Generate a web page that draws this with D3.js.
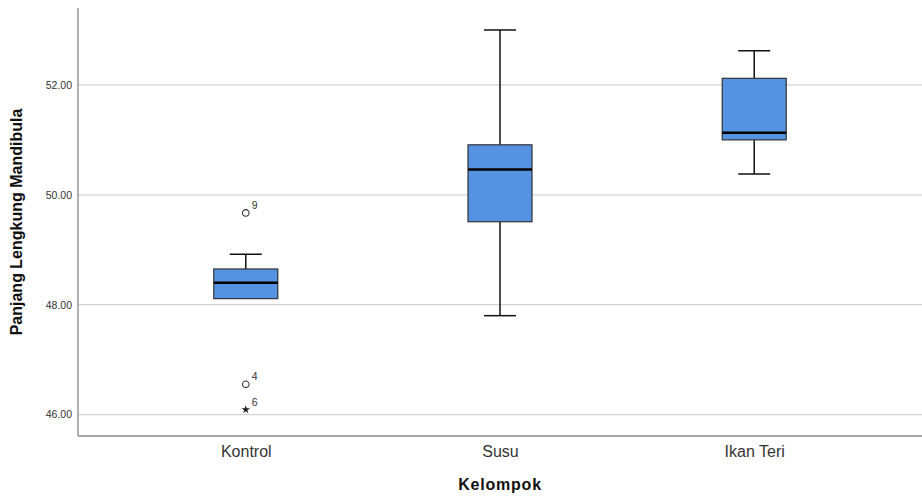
<!DOCTYPE html>
<html>
<head>
<meta charset="utf-8">
<script src="https://cdn.jsdelivr.net/npm/d3@7"></script>
<style>
  body { margin: 0; background: #fff; }
  svg { display: block; font-family: "Liberation Sans", Arial, sans-serif; }
</style>
</head>
<body>
<div id="chart"></div>
<script>
// Group names and box statistics
const groups = ['Kontrol', 'Susu', 'Ikan Teri'];
const whiskerLow = [48.11, 47.80, 50.38];
const q1 = [48.11, 49.51, 51.00];
const median = [48.40, 50.46, 51.13];
const q3 = [48.65, 50.91, 52.12];
const whiskerHigh = [48.92, 53.00, 52.62];

// outliers: group, value, case label, kind
const outlierGroup = ['Kontrol', 'Kontrol', 'Kontrol'];
const outlierValue = [49.67, 46.55, 46.09];
const outlierLabel = ['9', '4', '6'];
const outlierKind = ['circle', 'circle', 'star'];

const yTicks = [46, 48, 50, 52];

const W = 922, H = 498;
const margin = { top: 8, right: 0, bottom: 62, left: 78 };
const width = W - margin.left - margin.right;
const height = H - margin.top - margin.bottom;

const svg = d3.select('#chart').append('svg')
    .attr('width', W)
    .attr('height', H);

const g = svg.append('g')
    .attr('transform', `translate(${margin.left},${margin.top})`);

const x = d3.scalePoint().domain(groups).range([0, width]).padding(0.66);
const y = d3.scaleLinear().domain([45.61, 53.4]).range([height, 0]);

// gridlines
g.append('g').selectAll('line')
    .data(yTicks)
    .join('line')
    .attr('x1', 0).attr('x2', width)
    .attr('y1', d => y(d)).attr('y2', d => y(d))
    .attr('stroke', '#d4d4d4')
    .attr('stroke-width', 1.3);

// y axis
const yAxis = g.append('g')
    .call(d3.axisLeft(y).tickValues(yTicks).tickFormat(d3.format('.2f')).tickSize(0).tickPadding(6));
yAxis.select('.domain').remove();
yAxis.selectAll('text').attr('font-size', '10.5px').attr('fill', '#333')
    .attr('font-family', '"Liberation Sans", Arial, sans-serif');

// x axis
const xAxis = g.append('g')
    .attr('transform', `translate(0,${height})`)
    .call(d3.axisBottom(x).tickSize(0).tickPadding(10));
xAxis.select('.domain').remove();
xAxis.selectAll('text').attr('font-size', '16px').attr('fill', '#333')
    .attr('font-family', '"Liberation Sans", Arial, sans-serif');

// axis lines
g.append('line').attr('x1', 0).attr('x2', 0).attr('y1', 0).attr('y2', height)
    .attr('stroke', '#888').attr('stroke-width', 1.3);
g.append('line').attr('x1', 0).attr('x2', width).attr('y1', height).attr('y2', height)
    .attr('stroke', '#888').attr('stroke-width', 1.3);

// boxes
const boxW = 64;
const capW = 32;
const boxes = g.append('g').selectAll('g')
    .data(groups.map((name, i) => ({
        name, lo: whiskerLow[i], q1: q1[i], med: median[i], q3: q3[i], hi: whiskerHigh[i]
    })))
    .join('g')
    .attr('transform', d => `translate(${x(d.name)},0)`);

boxes.append('line')
    .attr('y1', d => y(d.hi)).attr('y2', d => y(d.q3))
    .attr('stroke', '#111').attr('stroke-width', 1.5);
boxes.append('line')
    .attr('y1', d => y(d.q1)).attr('y2', d => y(d.lo))
    .attr('stroke', '#111').attr('stroke-width', 1.5);
boxes.append('line')
    .attr('x1', -capW / 2).attr('x2', capW / 2)
    .attr('y1', d => y(d.hi)).attr('y2', d => y(d.hi))
    .attr('stroke', '#111').attr('stroke-width', 1.5);
boxes.filter(d => d.lo < d.q1).append('line')
    .attr('x1', -capW / 2).attr('x2', capW / 2)
    .attr('y1', d => y(d.lo)).attr('y2', d => y(d.lo))
    .attr('stroke', '#111').attr('stroke-width', 1.5);
boxes.append('rect')
    .attr('x', -boxW / 2).attr('width', boxW)
    .attr('y', d => y(d.q3))
    .attr('height', d => y(d.q1) - y(d.q3))
    .attr('fill', '#5592e2')
    .attr('stroke', '#333').attr('stroke-width', 1.2);
boxes.append('line')
    .attr('x1', -boxW / 2).attr('x2', boxW / 2)
    .attr('y1', d => y(d.med)).attr('y2', d => y(d.med))
    .attr('stroke', '#000').attr('stroke-width', 2.5);

// outliers
const outliers = g.append('g').selectAll('g')
    .data(outlierValue.map((v, i) => ({
        group: outlierGroup[i], value: v, label: outlierLabel[i], kind: outlierKind[i]
    })))
    .join('g')
    .attr('transform', d => `translate(${x(d.group)},${y(d.value)})`);

outliers.filter(d => d.kind === 'circle').append('circle')
    .attr('r', 3.3)
    .attr('fill', 'none')
    .attr('stroke', '#333').attr('stroke-width', 1.1);
outliers.filter(d => d.kind === 'star').append('path')
    .attr('d', d3.symbol().type(d3.symbolStar).size(22))
    .attr('fill', '#222');
outliers.append('text')
    .attr('x', 6).attr('y', -4)
    .attr('font-size', '10.5px')
    .attr('fill', '#333')
    .text(d => d.label);

// axis titles
svg.append('text')
    .attr('transform', `translate(22,${margin.top + height / 2}) rotate(-90)`)
    .attr('text-anchor', 'middle')
    .attr('font-size', '16px')
    .attr('font-weight', 'bold')
    .attr('fill', '#111')
    .text('Panjang Lengkung Mandibula');

svg.append('text')
    .attr('x', margin.left + x('Susu'))
    .attr('y', 490)
    .attr('text-anchor', 'middle')
    .attr('font-size', '16px')
    .attr('font-weight', 'bold')
    .attr('letter-spacing', '0.8px')
    .attr('fill', '#111')
    .text('Kelompok');
</script>
</body>
</html>
